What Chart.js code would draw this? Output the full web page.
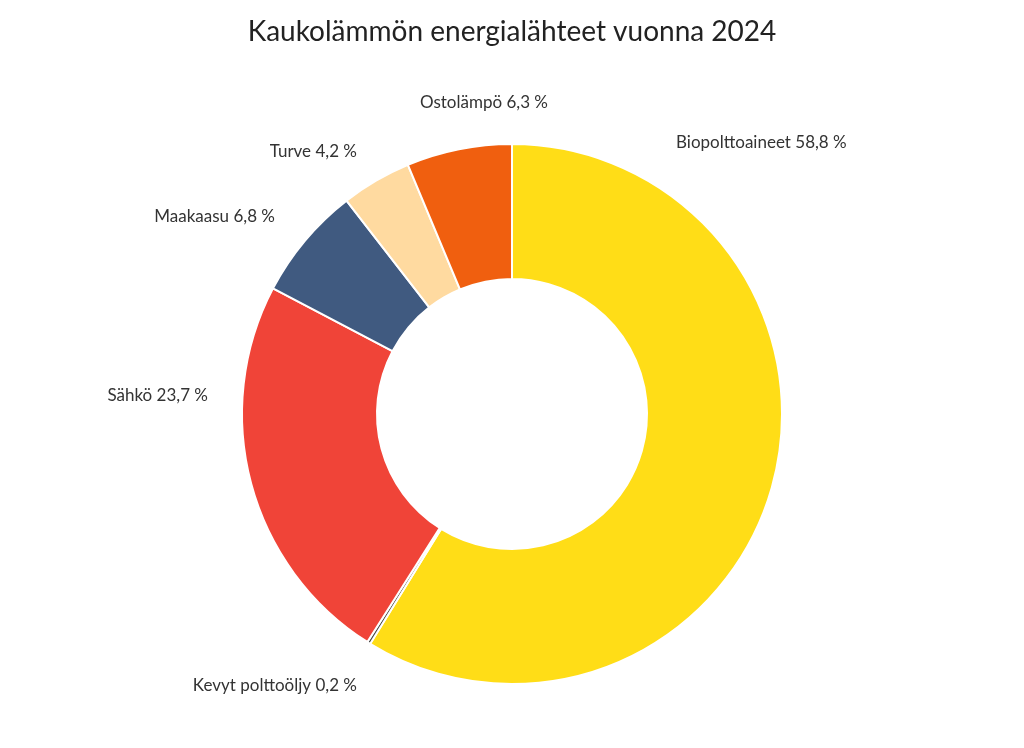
<!DOCTYPE html>
<html><head><meta charset="utf-8">
<script src="https://cdn.jsdelivr.net/npm/chart.js@4"></script>
<style>html,body{margin:0;padding:0;background:#fff}#w{width:1024px;height:748px;position:relative}</style>
</head><body><div id="w"><canvas id="c"></canvas></div>
<script>
const categories=["Biopolttoaineet","Kevyt polttoöljy","Sähkö","Maakaasu","Turve","Ostolämpö"];
const values=[58.8,0.2,23.7,6.8,4.2,6.3];
const colors=["#FFDD17","#4a4a4a","#F04438","#405A80","#FFDAA0","#F05F0F"];
const titleText="Kaukolämmön energialähteet vuonna 2024";
const labelPos=[[676,143,"left"],[357,686,"right"],[208,396,"right"],[275,217,"right"],[357,152,"right"],[548,103,"right"]];
const fmt=v=>v.toFixed(1).replace(".",",")+" %";
const labels={id:"lbl",afterDraw(ch){const x=ch.ctx;x.save();x.fillStyle="#222";x.textAlign="center";x.textBaseline="middle";x.font="28px Lato";x.fillText(titleText,512,32);
x.font="17px Lato";x.fillStyle="#333";categories.forEach((c,i)=>{const p=labelPos[i];x.textAlign=p[2];x.fillText(c+" "+fmt(values[i]),p[0],p[1]);});x.restore();}};
new Chart(document.getElementById("c"),{type:"doughnut",data:{labels:categories,datasets:[{data:values,backgroundColor:colors,borderColor:"#fff",borderWidth:2}]},
options:{responsive:true,maintainAspectRatio:false,animation:false,cutout:"50%",layout:{padding:{top:143,bottom:63}},plugins:{legend:{display:false},tooltip:{enabled:false}}},plugins:[labels]});
</script></body></html>
